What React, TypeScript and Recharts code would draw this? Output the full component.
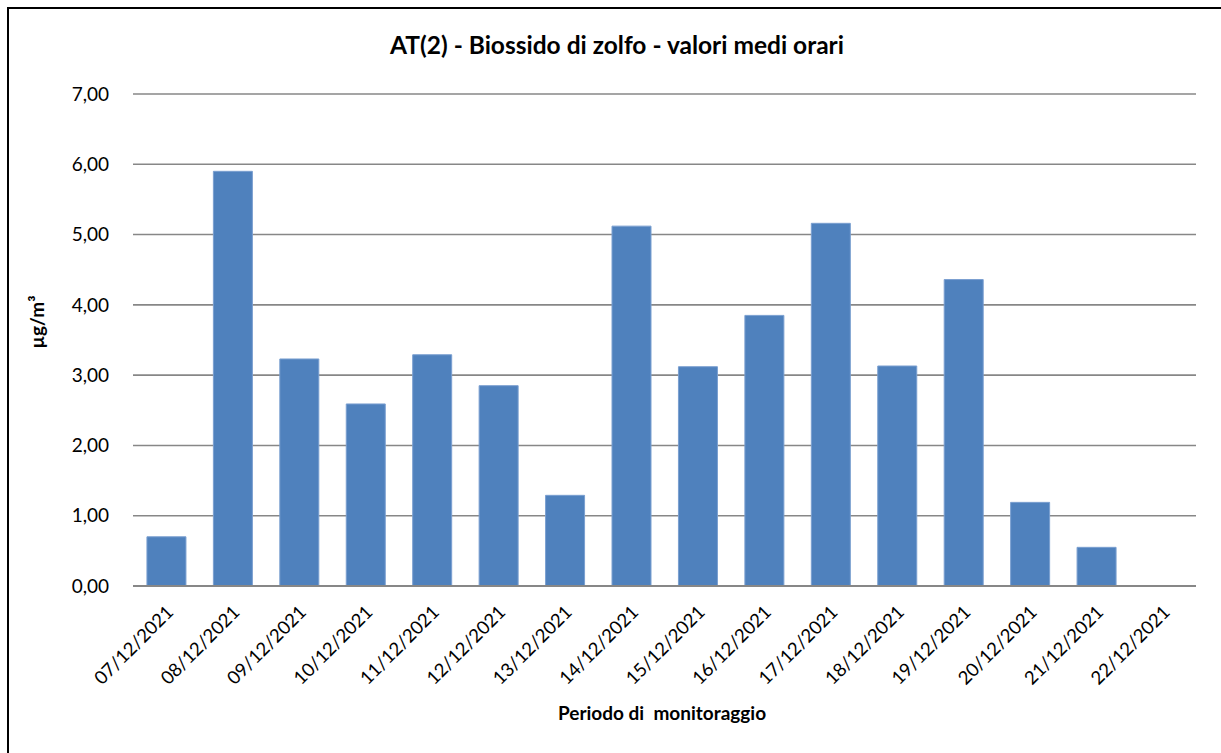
import React from "react";
import { BarChart, Bar, XAxis, YAxis, CartesianGrid } from "recharts";

const categories = [
  "07/12/2021", "08/12/2021", "09/12/2021", "10/12/2021", "11/12/2021", "12/12/2021",
  "13/12/2021", "14/12/2021", "15/12/2021", "16/12/2021", "17/12/2021", "18/12/2021",
  "19/12/2021", "20/12/2021", "21/12/2021", "22/12/2021",
];
const values = [0.7, 5.9, 3.23, 2.59, 3.29, 2.85, 1.29, 5.12, 3.12, 3.85, 5.16, 3.13, 4.36, 1.19, 0.55, 0];
const yTicks = [0, 1, 2, 3, 4, 5, 6, 7];

const data = categories.map((c, i) => ({ date: c, value: values[i] }));

const FONT = "Lato, 'Open Sans', sans-serif";

const XTick = (props: any) => {
  const { x, y, payload } = props;
  return (
    <g transform={`translate(${x + 5},${y + 16})`}>
      <text
        x={0}
        y={0}
        textAnchor="end"
        dominantBaseline="middle"
        transform="rotate(-45)"
        fontSize={18.5}
        fill="#000"
        fontFamily={FONT}
      >
        {payload.value}
      </text>
    </g>
  );
};

export default function App() {
  return (
    <div style={{ position: "absolute", left: 0, top: 0, width: 1221, height: 753, background: "#fff", overflow: "hidden" }}>
      <div
        style={{
          position: "absolute",
          left: 7,
          top: 7,
          width: 1230,
          height: 760,
          border: "2px solid #000",
          boxSizing: "border-box",
        }}
      />
      <div style={{ position: "absolute", left: 0, top: 0 }}>
        <BarChart
          width={1221}
          height={753}
          data={data}
          margin={{ top: 94, right: 25, left: 73, bottom: 47 }}
          barCategoryGap="21%"
        >
          <CartesianGrid vertical={false} stroke="#878787" strokeWidth={1.6} />
          <XAxis
            dataKey="date"
            height={120}
            interval={0}
            tick={<XTick />}
            tickLine={false}
            axisLine={{ stroke: "#878787", strokeWidth: 2 }}
          />
          <YAxis
            width={60}
            domain={[0, 7]}
            ticks={yTicks}
            tickFormatter={(v: number) => v.toFixed(2).replace(".", ",")}
            tick={{ fontSize: 19, fill: "#000", fontFamily: FONT }}
            tickLine={false}
            axisLine={false}
            tickMargin={18}
          />
          <Bar dataKey="value" fill="#4F81BD" stroke="#7A9FD0" strokeWidth={1} isAnimationActive={false} />
        </BarChart>
      </div>
      <div
        style={{
          position: "absolute",
          left: 0,
          top: 29,
          width: 1234,
          textAlign: "center",
          fontFamily: FONT,
          fontWeight: "bold",
          fontSize: 24.5,
          lineHeight: "32px",
          color: "#000",
        }}
      >
        AT(2) - Biossido di zolfo - valori medi orari
      </div>
      <div
        style={{
          position: "absolute",
          left: 462,
          top: 700,
          width: 400,
          textAlign: "center",
          fontFamily: FONT,
          fontWeight: "bold",
          fontSize: 19,
          lineHeight: "26px",
          color: "#000",
          whiteSpace: "pre",
        }}
      >
        {"Periodo di  monitoraggio"}
      </div>
      <div
        style={{
          position: "absolute",
          left: 37 - 50,
          top: 322 - 13,
          width: 100,
          height: 26,
          lineHeight: "26px",
          textAlign: "center",
          fontFamily: FONT,
          fontWeight: "bold",
          fontSize: 19,
          color: "#000",
          transform: "rotate(-90deg)",
        }}
      >
        µg/m³
      </div>
    </div>
  );
}
